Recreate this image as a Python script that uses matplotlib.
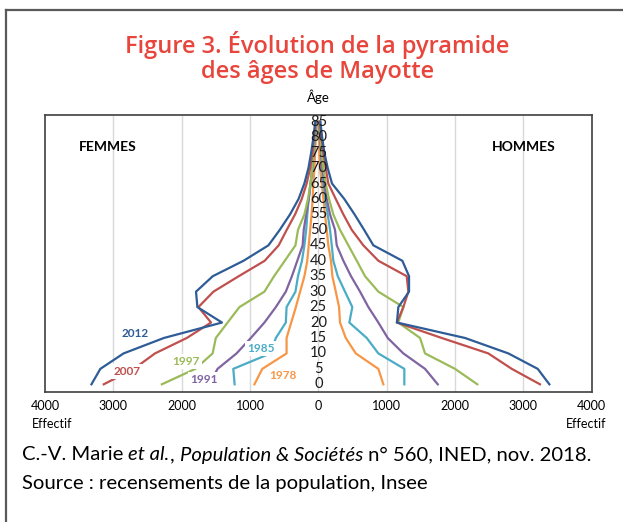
import numpy as np
import matplotlib
matplotlib.use("Agg")
import matplotlib.pyplot as plt
from matplotlib.lines import Line2D

plt.rcParams['font.family'] = ['Lato', 'DejaVu Sans']

# Données (effectifs)
ages = [0, 5, 10, 15, 20, 25, 30, 35, 40, 45, 50, 55, 60, 65, 70, 75, 80, 85]
annees = ['1978', '1985', '1991', '1997', '2007', '2012']

femmes = {
    '2012': [3320, 3190, 2850, 2260, 1410, 1770, 1790, 1545, 1095, 730, 565, 415, 290, 205, 145, 105, 72, 45],
    '2007': [3140, 2700, 2390, 1925, 1570, 1755, 1535, 1165, 785, 580, 463, 341, 243, 171, 120, 85, 63, 40],
    '1997': [2290, 1800, 1547, 1500, 1328, 1155, 789, 648, 491, 335, 298, 204, 152, 115, 89, 73, 57, 37],
    '1991': [1600, 1475, 1197, 988, 789, 622, 476, 387, 308, 230, 214, 178, 141, 115, 89, 73, 57, 35],
    '1985': [1225, 1245, 700, 622, 476, 465, 335, 298, 240, 204, 178, 162, 141, 110, 85, 65, 45, 25],
    '1978': [935, 820, 465, 465, 397, 329, 267, 204, 162, 141, 120, 99, 84, 73, 57, 47, 37, 21],
}
hommes = {
    '2012': [3380, 3210, 2780, 2146, 1150, 1170, 1327, 1327, 1229, 805, 670, 530, 380, 200, 137, 88, 55, 30],
    '2007': [3243, 2830, 2487, 1805, 1147, 1244, 1317, 1293, 878, 658, 489, 366, 255, 146, 108, 73, 45, 20],
    '1997': [2326, 2000, 1561, 1488, 1170, 1244, 878, 683, 562, 439, 317, 219, 156, 108, 73, 50, 30, 12],
    '1991': [1747, 1561, 1244, 1015, 878, 732, 610, 478, 366, 269, 244, 171, 123, 88, 59, 40, 25, 10],
    '1985': [1258, 1258, 878, 708, 453, 497, 390, 284, 219, 196, 171, 137, 102, 73, 55, 40, 25, 10],
    '1978': [951, 878, 547, 401, 317, 303, 255, 205, 185, 146, 123, 98, 73, 50, 25, 15, 10, 5],
}
couleurs = {
    '2012': '#2E5C96',
    '2007': '#C0504D',
    '1997': '#9BBB59',
    '1991': '#8064A2',
    '1985': '#4BACC6',
    '1978': '#F79646',
}
# position des étiquettes (effectif, âge)
etiquettes = {
    '2012': (-2683, 16.4),
    '2007': (-2795, 4.2),
    '1997': (-1936, 7.3),
    '1991': (-1673, 1.4),
    '1985': (-843, 11.5),
    '1978': (-512, 3.0),
}
xticks = [-4000, -3000, -2000, -1000, 0, 1000, 2000, 3000, 4000]

fig = plt.figure(figsize=(6.23, 5.22), dpi=100)
ax = fig.add_axes([0.0722, 0.249, 0.8776, 0.5307])

for a in annees:
    ax.plot(-np.array(femmes[a]), ages, color=couleurs[a], lw=1.6, zorder=3)
    ax.plot(hommes[a], ages, color=couleurs[a], lw=1.6, zorder=3)
    x, y = etiquettes[a]
    ax.text(x, y, a, color=couleurs[a], fontsize=8.5, fontweight='bold',
            ha='center', va='center', zorder=4,
            bbox=dict(facecolor='white', edgecolor='none', pad=1.5))

# étiquettes d'âge au centre
for g in ages:
    ax.text(0, g, str(g), ha='center', va='center', fontsize=10.5, color='#1a1a1a', zorder=5)

for xv in [-3000, -2000, -1000, 0, 1000, 2000, 3000]:
    ax.axvline(xv, color='#D9D9D9', lw=1, zorder=1)

ax.set_xlim(-4000, 4000)
ax.set_ylim(-2.5, 87.2)
ax.set_xticks(xticks)
ax.set_xticklabels([str(abs(v)) for v in xticks])
ax.set_yticks([])
ax.tick_params(axis='x', length=0, pad=6, labelsize=9)
for s in ax.spines.values():
    s.set_color('#404040')
    s.set_linewidth(1.2)

ax.text(0.115, 0.885, 'FEMMES', transform=ax.transAxes, ha='center', va='center',
        fontsize=10, fontweight='bold')
ax.text(0.876, 0.885, 'HOMMES', transform=ax.transAxes, ha='center', va='center',
        fontsize=10, fontweight='bold')

fig.text(0.511, 0.814, 'Âge', ha='center', va='center', fontsize=9.5)
fig.text(0.083, 0.188, 'Effectif', ha='center', va='center', fontsize=9)
fig.text(0.941, 0.188, 'Effectif', ha='center', va='center', fontsize=9)

# titre
rouge = '#E8453C'
fig.text(0.509, 0.914, 'Figure 3. Évolution de la pyramide', ha='center', va='center',
         fontsize=17, fontweight='semibold', color=rouge, family=['Open Sans', 'DejaVu Sans'])
fig.text(0.509, 0.862, 'des âges de Mayotte', ha='center', va='center',
         fontsize=17, fontweight='semibold', color=rouge, family=['Open Sans', 'DejaVu Sans'])

# source, avec italiques
renderer = fig.canvas.get_renderer()
morceaux = [('C.-V. Marie ', 'normal'), ('et al.', 'italic'), (', ', 'normal'),
            ('Population & Sociétés', 'italic'), (' n° 560, INED, nov. 2018.', 'normal')]
xpos = 22 / 623
for txt, style in morceaux:
    t = fig.text(xpos, 1 - 455 / 522, txt, ha='left', va='center', fontsize=14.6, style=style)
    bb = t.get_window_extent(renderer=renderer)
    xpos += bb.width / fig.bbox.width
fig.text(22 / 623, 1 - 483 / 522, 'Source : recensements de la population, Insee',
         ha='left', va='center', fontsize=14.6)

# cadre extérieur
fig.add_artist(Line2D([6 / 623, 1], [1 - 10 / 522, 1 - 10 / 522], color='#595959', lw=1.6))
fig.add_artist(Line2D([6 / 623, 6 / 623], [0, 1 - 10 / 522], color='#595959', lw=1.6))

fig.savefig('out.png', dpi=100)
